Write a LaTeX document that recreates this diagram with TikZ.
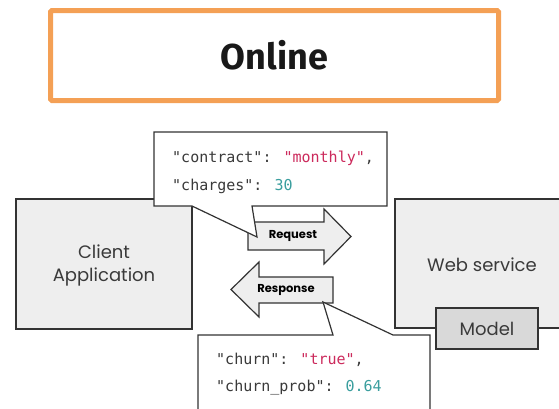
\documentclass[tikz,border=0pt]{standalone}
\usepackage{fontspec}
\setmainfont{Poppins}
\newfontfamily\titlefont{Fira Sans}
\newfontfamily\codefont{DejaVu Sans Mono}
\definecolor{orangeb}{HTML}{F4A055}
\definecolor{boxfill}{HTML}{EEEEEE}
\definecolor{modelfill}{HTML}{D9D9D9}
\definecolor{edge}{HTML}{333333}
\definecolor{txt}{HTML}{3A3A3A}
\definecolor{codekey}{HTML}{3A3A3A}
\definecolor{codestr}{HTML}{CC2A5C}
\definecolor{codenum}{HTML}{3A9E9E}
\tikzset{
  graybox/.style={draw=edge, line width=1.2pt, fill=boxfill},
  callout/.style={draw=edge, line width=1.2pt, fill=white},
  arrowshape/.style={draw=edge, line width=1.2pt, fill=boxfill},
  boxtext/.style={text=txt, font=\fontsize{18}{23}\selectfont, align=center, inner sep=0pt},
  arrowtext/.style={text=black, font=\bfseries\fontsize{11.5}{13}\selectfont, inner sep=0pt},
  codetext/.style={anchor=west, inner sep=0pt, text=codekey, font=\codefont\fontsize{15}{18}\selectfont},
}
\begin{document}
\begin{tikzpicture}[x=1pt,y=-1pt]
\useasboundingbox (0,0) rectangle (559,408);
% title
\draw[orangeb, line width=5pt, rounded corners=1.5pt] (50.5,10.5) rectangle (498.5,100.5);
\node[text=black!90, font=\titlefont\bfseries\fontsize{36}{40}\selectfont, inner sep=0pt] (title) at (274.5,55) {Online};
% client
\draw[graybox] (16,199) rectangle (192,329);
\node[boxtext] (client) at (104,265) {Client\\Application};
% web service
\draw[graybox] (395,199) rectangle (575,328);
\node[boxtext] (web) at (482,265) {Web service};
\draw[draw=edge, line width=1.2pt, fill=modelfill] (436,308) rectangle (538,349);
\node[boxtext] (model) at (487,329) {Model};
% request arrow
\draw[arrowshape] (248,222) -- (324,222) -- (324,209) -- (351,236.5) -- (324,264) -- (324,250) -- (248,250) -- cycle;
\node[arrowtext] (req) at (293,235.5) {Request};
% request callout
\draw[callout] (154,132) -- (387,132) -- (387,206) -- (252,206) -- (257,237) -- (192,206) -- (154,206) -- cycle;
\node[codetext] (c1) at (172,158) {"contract": \textcolor{codestr}{"monthly"},};
\node[codetext] (c2) at (172,186) {"charges": \textcolor{codenum}{30}};
% response arrow
\draw[arrowshape] (231,289.5) -- (259,262) -- (259,277) -- (333,277) -- (333,303) -- (259,303) -- (259,317) -- cycle;
\node[arrowtext] (resp) at (286,289.5) {Response};
% response callout
\draw[callout] (198,335) -- (333,335) -- (323,302) -- (393,335) -- (430,335) -- (430,420) -- (198,420) -- cycle;
\node[codetext] (r1) at (216,360) {"churn": \textcolor{codestr}{"true"},};
\node[codetext] (r2) at (216,388) {"churn\_prob": \textcolor{codenum}{0.64}};
\end{tikzpicture}
\end{document}
